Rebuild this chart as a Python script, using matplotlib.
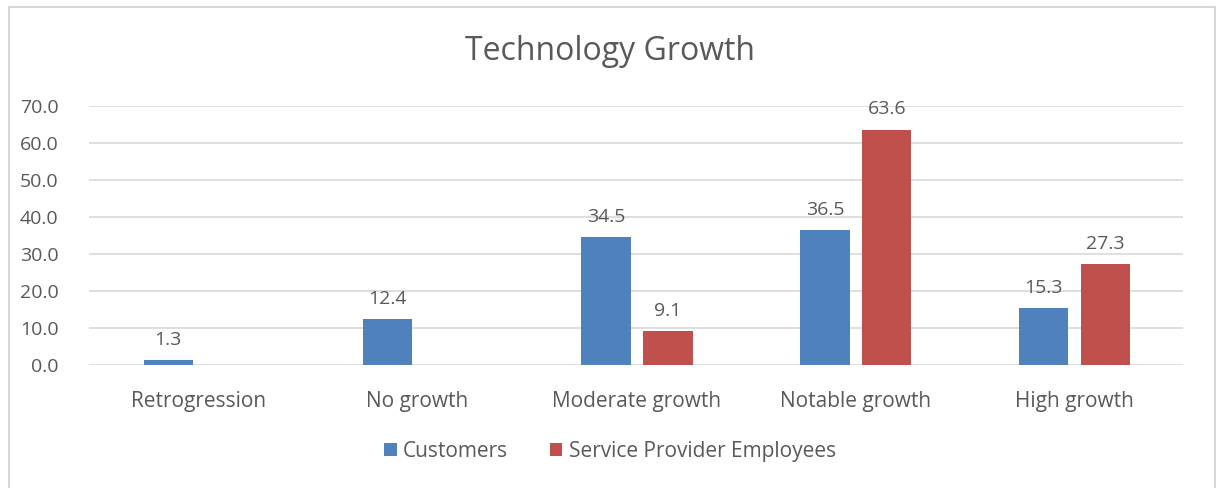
import matplotlib.pyplot as plt
import numpy as np
from matplotlib.patches import Rectangle

categorias = ["Retrogression", "No growth", "Moderate growth", "Notable growth", "High growth"]
clientes = [1.3, 12.4, 34.5, 36.5, 15.3]
empleados = [0.0, 0.0, 9.1, 63.6, 27.3]
etiquetas_y = [0, 10, 20, 30, 40, 50, 60, 70]

AZUL = "#4F81BD"
ROJO = "#C0504D"
GRIS_TEXTO = "#595959"
GRIS_REJILLA = "#D9D9D9"

plt.rcParams["font.family"] = ["Open Sans", "DejaVu Sans"]

fig = plt.figure(figsize=(12.2, 4.88), dpi=100)
ax = fig.add_axes([0.073, 0.252, 0.897, 0.531])

# marco del grafico
fig.patches.append(Rectangle((0.007, -0.01), 0.989, 0.995, transform=fig.transFigure,
                             fill=False, edgecolor="#D0D0D0", linewidth=1.2))

x = np.arange(len(categorias))
ancho = 0.225
b1 = ax.bar(x - 0.138, clientes, ancho, color=AZUL, label="Customers", zorder=3)
b2 = ax.bar(x + 0.145, empleados, ancho, color=ROJO, label="Service Provider Employees", zorder=3)

for barras, valores in ((b1, clientes), (b2, empleados)):
    for barra, v in zip(barras, valores):
        if v <= 0:
            continue
        ax.text(barra.get_x() + barra.get_width() / 2, v + 3.0, f"{v:.1f}",
                ha="center", va="bottom", fontsize=14, color=GRIS_TEXTO)

ax.set_xlim(-0.5, len(categorias) - 0.5)
ax.set_ylim(0, 70)
ax.set_yticks(etiquetas_y)
ax.set_yticklabels([f"{v:.1f}" for v in etiquetas_y])
ax.set_xticks(x)
ax.set_xticklabels(categorias)
ax.tick_params(axis="both", length=0, colors=GRIS_TEXTO)
ax.tick_params(axis="x", pad=19, labelsize=15)
ax.tick_params(axis="y", pad=22, labelsize=14)
ax.grid(axis="y", color=GRIS_REJILLA, linewidth=1.2, zorder=0)
for s in ax.spines.values():
    s.set_visible(False)

fig.text(0.5, 0.895, "Technology Growth", ha="center", va="center", fontsize=23, color=GRIS_TEXTO)

fig.legend(handles=[b1, b2], loc="center", bbox_to_anchor=(0.5, 0.075), ncol=2, frameon=False,
           fontsize=15, labelcolor=GRIS_TEXTO, handlelength=0.6, handleheight=0.6,
           handletextpad=0.3, columnspacing=2.0)

plt.savefig("out.png", dpi=100)
plt.close()
